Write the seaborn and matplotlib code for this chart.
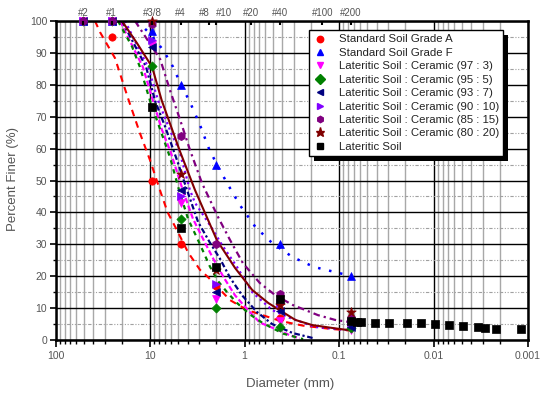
import numpy as np
import pandas as pd
import seaborn as sns
import matplotlib
matplotlib.use("Agg")
import matplotlib.pyplot as plt
from matplotlib.lines import Line2D
from matplotlib.patches import Rectangle
from matplotlib.ticker import FixedLocator, FixedFormatter, NullFormatter, LogLocator, MultipleLocator

# ---------------- data ----------------
sieve_d = [50.8, 25.4, 9.5, 4.75, 2.0, 0.425, 0.075]

gradeA_p = [100, 95, 50, 30, 17, 7, 5]
gradeF_p = [100, 100, 97, 80, 55, 30, 20]
mix97_p = [100, 100, 92.5, 43, 13, 6, 3]
mix95_p = [100, 100, 86, 38, 10, 4, 3.8]
mix93_p = [100, 100, 92, 47, 15, 9, 4]
mix90_p = [100, 100, 94, 45, 17.5, 11.5, 5.7]
mix85_p = [100, 100, 99, 64, 30, 14.5, 7]

mix80_d = [9.5, 4.75, 2.0, 0.425, 0.075]
mix80_p = [100, 52, 22, 11, 8.8]

lat_d = [9.5, 4.75, 2.0, 0.425, 0.075, 0.0645, 0.0585, 0.0416, 0.0296, 0.0191,
         0.01355, 0.00964, 0.00686, 0.00488, 0.00338, 0.00285, 0.00218, 0.00119]
lat_p = [73, 35, 23, 13, 6, 5.7, 5.7, 5.4, 5.4, 5.4, 5.2, 5.0, 4.7, 4.4, 4.0, 3.7, 3.3, 3.3]

# fitted curves
fitA_d = [38.2, 33.8, 23.5, 17.1, 12.8, 10.0, 7.65, 6.5, 5.2, 3.96, 2.96, 2.43, 1.42, 0.94, 0.42, 0.24, 0.124, 0.077]
fitA_p = [100, 96.5, 88.4, 75.8, 64.9, 56.4, 46, 40, 34.5, 27.5, 22, 19.7, 12.5, 9.4, 6, 4.5, 3.5, 3.0]
fitF_d = [13.7, 10.0, 7.3, 5.7, 4.7, 3.78, 2.96, 2.38, 1.96, 1.53, 1.12, 0.77, 0.51, 0.31, 0.184, 0.10, 0.073]
fitF_p = [100, 96, 91, 85.6, 80, 74.6, 67.4, 60, 55, 49.2, 42.3, 35.5, 30.4, 26, 22.9, 21, 20]
fit95_d = [21.8, 15.5, 12.8, 10.0, 7.8, 6.1, 4.93, 3.96, 2.96, 2.32, 1.91, 1.53, 1.20, 0.875, 0.64, 0.39, 0.24]
fit95_p = [100, 92, 85.6, 75, 66, 57, 47, 38, 30, 23, 18.5, 15, 11.6, 8, 5.3, 2, 0.3]
fit97_d = [20.8, 11.9, 9.3, 7.5, 6.0, 4.5, 3.51, 2.62, 2.10, 1.65, 1.26, 0.96, 0.69, 0.475, 0.33, 0.26]
fit97_p = [100, 85.6, 75, 66, 58.6, 47, 38, 30.5, 25, 19.5, 14, 10, 5.5, 3.5, 1.5, 0.5]
fit93_d = [19.8, 11.0, 8.85, 6.9, 5.1, 4.06, 3.10, 2.32, 1.82, 1.42, 1.06, 0.74, 0.51, 0.31, 0.188]
fit93_p = [100, 85.6, 75, 66.8, 55.8, 47, 37, 30.5, 25.5, 19.5, 14, 8.8, 5, 2.2, 0.6]
fit90_d = [18.4, 10.5, 8.2, 6.0, 4.93, 3.78, 3.34, 2.26, 1.73, 1.20, 0.83, 0.51, 0.35, 0.18, 0.103, 0.073]
fit90_p = [100, 85.6, 75, 65, 59.6, 47, 43, 35.5, 29.8, 22.9, 15, 9.4, 7.2, 4.1, 3.4, 3.0]
fit80_d = [19.8, 13.7, 9.5, 7.5, 4.8, 3.34, 1.96, 1.26, 0.83, 0.56, 0.29, 0.193, 0.119, 0.080]
fit80_p = [100, 93, 85.6, 75, 59, 47, 31.3, 22.6, 15.7, 11.6, 6.3, 4.7, 3.8, 3.1]
fit85_d = [14.4, 7.8, 6.1, 4.8, 3.78, 2.82, 1.91, 1.42, 1.04, 0.69, 0.475, 0.31, 0.167, 0.110, 0.080]
fit85_p = [100, 88, 78, 69, 59.6, 49.2, 38.6, 31.3, 24.1, 17.9, 14.1, 11, 7.8, 6.3, 5.7]

labels = ["Standard Soil Grade A", "Standard Soil Grade F",
          "Lateritic Soil : Ceramic (97 : 3)", "Lateritic Soil : Ceramic (95 : 5)",
          "Lateritic Soil : Ceramic (93 : 7)", "Lateritic Soil : Ceramic (90 : 10)",
          "Lateritic Soil : Ceramic (85 : 15)", "Lateritic Soil : Ceramic (80 : 20)",
          "Lateritic Soil"]

x_ticks = [100, 10, 1, 0.1, 0.01, 0.001]
x_ticklabels = ["100", "10", "1", "0.1", "0.01", "0.001"]
top_d = [50.8, 25.4, 9.5, 4.75, 2.36, 2.0, 0.85, 0.425, 0.15, 0.075]
top_labels = ["#2", "#1", "#3/8", "#4", "#8", "#10", "#20", "#40", "#100", "#200"]

# ---------------- styling ----------------
sns.set_style("white")
plt.rcParams['font.family'] = ['Liberation Sans', 'DejaVu Sans']
txt = '#555555'

fig = plt.figure(figsize=(5.41, 3.94), dpi=100)
ax = fig.add_axes([0.1026, 0.137, 0.8734, 0.8097])
ax.set_xscale('log')
ax.set_xlim(100, 0.001)
ax.set_ylim(0, 100)
ax.set_axisbelow(True)

ax.xaxis.set_major_locator(FixedLocator(x_ticks))
ax.xaxis.set_major_formatter(FixedFormatter(x_ticklabels))
ax.xaxis.set_minor_locator(LogLocator(base=10, subs=np.arange(2, 10)))
ax.xaxis.set_minor_formatter(NullFormatter())
ax.yaxis.set_major_locator(MultipleLocator(10))
ax.yaxis.set_minor_locator(MultipleLocator(5))

ax.grid(which='minor', axis='x', color='#a8a8a8', lw=1.0)
ax.grid(which='minor', axis='y', color='#a0a0a0', lw=0.8, linestyle=(0, (3, 1.5, 1, 1.5, 1, 1.5)))
ax.grid(which='major', axis='both', color='black', lw=1.0)

for s in ax.spines.values():
    s.set_visible(True)
    s.set_color('black')
    s.set_linewidth(1.8)

ax.tick_params(axis='x', which='major', direction='out', length=5, width=1.2, color='black',
               labelsize=7.5, labelcolor=txt, pad=3, bottom=True)
ax.tick_params(axis='x', which='minor', direction='out', length=3, width=1.0, color='black', bottom=True)
ax.tick_params(axis='y', which='major', direction='out', length=4, width=1.2, color='black',
               labelsize=7.5, labelcolor=txt, pad=2, left=True)
ax.tick_params(axis='y', which='minor', direction='out', length=2.5, width=1.0, color='black', left=True)

# ---------------- curves ----------------
curves = [
    (fitA_d, fitA_p, '#ff0000', (0, (3.2, 2.6)), 1.5),
    (fitF_d, fitF_p, '#0000ff', (0, (1, 3.5)), 1.8),
    (fit97_d, fit97_p, '#ff00ff', (0, (2.5, 1.2)), 1.6),
    (fit95_d, fit95_p, '#008000', (0, (2, 2.2)), 1.6),
    (fit93_d, fit93_p, '#000080', (0, (2.5, 1.2, 1, 1.2)), 1.6),
    (fit90_d, fit90_p, '#8000ff', (0, (1, 1.6)), 1.6),
    (fit85_d, fit85_p, '#800080', (0, (3, 1.8, 1, 1.8)), 1.6),
    (fit80_d, fit80_p, '#800000', '-', 1.5),
]
for d, p, c, ls, lw in curves:
    df = pd.DataFrame({'d': d, 'p': p})
    sns.lineplot(data=df, x='d', y='p', ax=ax, color=c, linestyle=ls, lw=lw,
                 sort=False, estimator=None, legend=False, zorder=2)

# ---------------- markers ----------------
markers = [
    (sieve_d, gradeA_p, '#ff0000', 'o', 28),
    (sieve_d, gradeF_p, '#0000ff', '^', 32),
    (sieve_d, mix97_p, '#ff00ff', 'v', 32),
    (sieve_d, mix95_p, '#008000', 'D', 22),
    (sieve_d, mix93_p, '#000080', '<', 32),
    (sieve_d, mix90_p, '#8000ff', '>', 32),
    (sieve_d, mix85_p, '#800080', 'h', 36),
    (mix80_d, mix80_p, '#800000', '*', 52),
    (lat_d, lat_p, '#000000', 's', 26),
]
for d, p, c, m, s in markers:
    sns.scatterplot(x=d, y=p, ax=ax, marker=m, color=c, edgecolor=c, s=s,
                    linewidth=0.5, zorder=4, clip_on=False, legend=False)

ax.set_xlim(100, 0.001)
ax.set_ylim(0, 100)
ax.set_xlabel('Diameter (mm)', fontsize=9.5, color=txt)
ax.set_ylabel('Percent Finer (%)', fontsize=9.5, color=txt)
ax.xaxis.set_label_coords(0.496, -0.118)
ax.yaxis.set_label_coords(-0.078, 0.505)

# ---------------- top sieve axis ----------------
ax2 = ax.twiny()
ax2.set_xscale('log')
ax2.set_xlim(100, 0.001)
ax2.xaxis.set_major_locator(FixedLocator(top_d))
ax2.xaxis.set_major_formatter(FixedFormatter(top_labels))
ax2.xaxis.set_minor_locator(FixedLocator([]))
ax2.tick_params(axis='x', which='major', direction='in', length=3, width=1.5, color='black',
                labelsize=7, labelcolor=txt, pad=2, top=True)
ax2.grid(False)
ax2.patch.set_visible(False)
for s in ax2.spines.values():
    s.set_visible(False)
for lab in ax2.get_xticklabels():
    if lab.get_text() == "#8":
        lab.set_horizontalalignment('right')
    elif lab.get_text() == "#10":
        lab.set_horizontalalignment('left')

# ---------------- legend ----------------
handles = [Line2D([], [], marker=m, color=c, markeredgecolor=c, linestyle='None',
                  markersize=(6.5 if m == '*' else 4.6))
           for (_, _, c, m, _) in markers]
leg = ax.legend(handles, labels, loc='upper left', bbox_to_anchor=(0.5365, 0.972),
                fontsize=8.2, frameon=True, fancybox=False, framealpha=1,
                edgecolor='black', borderpad=0.4, labelspacing=0.3,
                handletextpad=1.0, handlelength=1.2, borderaxespad=0)
leg.get_frame().set_linewidth(1.0)
leg.set_zorder(6)
for t in leg.get_texts():
    t.set_color('#222222')

fig.canvas.draw()
bb = leg.get_window_extent()
inv = ax.transAxes.inverted()
(x0, y0) = inv.transform((bb.x0 + 5, bb.y0 - 5))
(x1, y1) = inv.transform((bb.x1 + 5, bb.y1 - 5))
ax.add_patch(Rectangle((x0, y0), x1 - x0, y1 - y0, transform=ax.transAxes,
                       facecolor='black', edgecolor='none', zorder=5.5, clip_on=False))

fig.savefig('out.png', dpi=100)
